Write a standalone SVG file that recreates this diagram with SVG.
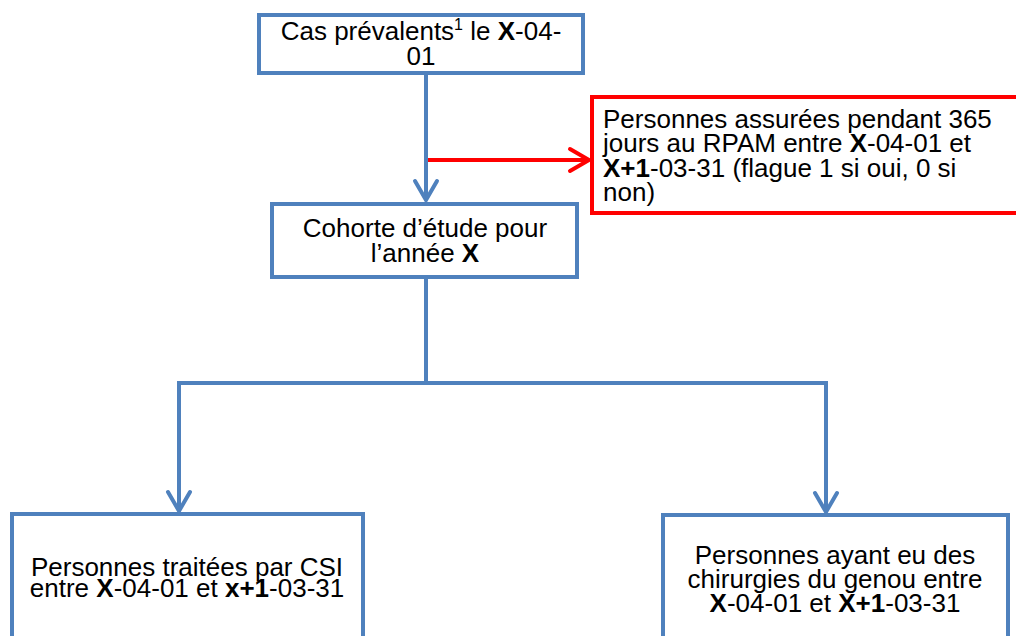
<svg xmlns="http://www.w3.org/2000/svg" width="1016" height="636" viewBox="0 0 1016 636">
<style>
.box{fill:#ffffff;stroke:#4f81bd;stroke-width:4;}
.rbox{fill:#ffffff;stroke:#ff0000;stroke-width:4;}
.t{font-family:"Liberation Sans",Arial,sans-serif;font-size:26px;fill:#000000;}
.c{text-anchor:middle;}
.b{font-weight:bold;}
.bl{fill:none;stroke:#4f81bd;stroke-width:4;}
.rl{fill:none;stroke:#ff0000;stroke-width:4;}
</style>
<defs>
<marker id="ab" markerUnits="userSpaceOnUse" viewBox="-24 -14 28 28" refX="0" refY="0" markerWidth="28" markerHeight="28" orient="auto">
<path d="M -19 -11 L 0 0 L -19 11" fill="none" stroke="#4f81bd" stroke-width="4" stroke-linecap="round"/>
</marker>
<marker id="ar" markerUnits="userSpaceOnUse" viewBox="-24 -14 28 28" refX="0" refY="0" markerWidth="28" markerHeight="28" orient="auto">
<path d="M -19 -11 L 0 0 L -19 11" fill="none" stroke="#ff0000" stroke-width="4" stroke-linecap="round"/>
</marker>
</defs>
<g id="connectors">
<line class="bl" x1="426" y1="73" x2="426" y2="200" marker-end="url(#ab)"/>
<line class="rl" x1="428" y1="160" x2="589" y2="160" marker-end="url(#ar)"/>
<polyline class="bl" points="426,277 426,383"/>
<polyline class="bl" points="179,511 179,383 826,383 826,511" marker-start="none"/>
<line class="bl" x1="179" y1="450" x2="179" y2="511" marker-end="url(#ab)"/>
<line class="bl" x1="826" y1="450" x2="826" y2="512" marker-end="url(#ab)"/>
</g>
<g id="node-prevalents">
<rect class="box" x="259" y="15" width="324" height="58"/>
<text class="t c" x="421" y="40">Cas prévalents<tspan font-size="16" dy="-10">1</tspan><tspan dy="10"> le </tspan><tspan class="b">X</tspan>-04-</text>
<text class="t c" x="421" y="65">01</text>
</g>
<g id="node-assurees">
<rect class="rbox" x="592" y="97" width="440" height="116"/>
<text class="t" x="603" y="128">Personnes assurées pendant 365</text>
<text class="t" x="603" y="152">jours au RPAM entre <tspan class="b">X</tspan>-04-01 et</text>
<text class="t" x="603" y="177"><tspan class="b">X+1</tspan>-03-31 (flague 1 si oui, 0 si</text>
<text class="t" x="603" y="201">non)</text>
</g>
<g id="node-cohorte">
<rect class="box" x="272" y="204" width="305" height="73"/>
<text class="t c" x="425" y="237">Cohorte d’étude pour</text>
<text class="t c" x="425" y="262">l’année <tspan class="b">X</tspan></text>
</g>
<g id="node-csi">
<rect class="box" x="12" y="514" width="351" height="140"/>
<text class="t c" x="187" y="576">Personnes traitées par CSI</text>
<text class="t c" x="187" y="597">entre <tspan class="b">X</tspan>-04-01 et <tspan class="b">x+1</tspan>-03-31</text>
</g>
<g id="node-genou">
<rect class="box" x="663" y="515" width="345" height="140"/>
<text class="t c" x="835" y="564">Personnes ayant eu des</text>
<text class="t c" x="835" y="588">chirurgies du genou entre</text>
<text class="t c" x="835" y="612"><tspan class="b">X</tspan>-04-01 et <tspan class="b">X+1</tspan>-03-31</text>
</g>
</svg>
